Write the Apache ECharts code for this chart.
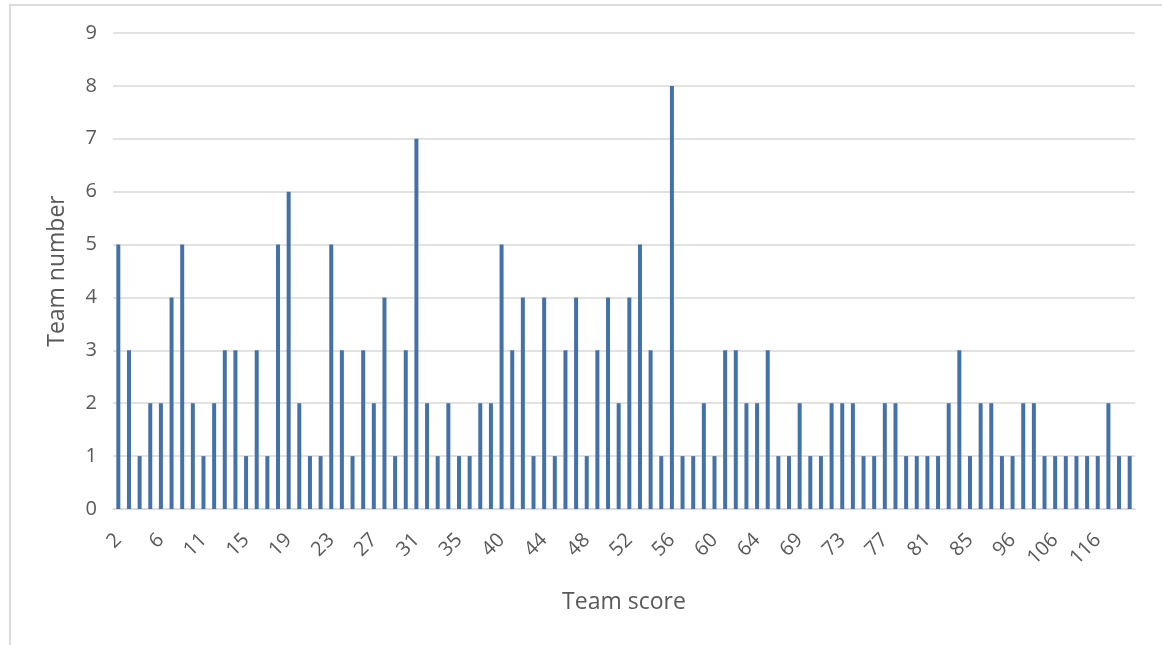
<!DOCTYPE html>
<html>
<head>
<meta charset="utf-8">
<title>Team score</title>
<script src="https://cdn.jsdelivr.net/npm/echarts@6/dist/echarts.min.js"></script>
<style>
    html, body { margin: 0; padding: 0; background: #fff; }
    #frame {
        position: absolute; left: 9px; top: 4px; width: 1200px; height: 700px;
        border-left: 2px solid #dcdcdc; border-top: 2px solid #dcdcdc;
    }
    #main { position: absolute; left: 0; top: 0; width: 1162px; height: 645px; }
</style>
</head>
<body>
<div id="frame"></div>
<div id="main"></div>
<script>
// team scores (categories) - only every 4th one is labelled on the axis
var scores = [
    2, 3, 4, 5, 6, 7, 8, 9, 11, 12, 13, 14, 15, 16, 17, 18,
    19, 20, 21, 22, 23, 24, 25, 26, 27, 28, 29, 30, 31, 32, 33, 34,
    35, 36, 38, 39, 40, 41, 42, 43, 44, 45, 46, 47, 48, 49, 50, 51,
    52, 53, 54, 55, 56, 57, 58, 59, 60, 61, 62, 63, 64, 65, 66, 67,
    69, 70, 71, 72, 73, 74, 75, 76, 77, 78, 79, 80, 81, 82, 83, 84,
    85, 87, 90, 93, 96, 98, 101, 103, 106, 108, 110, 113, 116, 118, 121, 125
];
// number of teams with each score
var teamCounts = [
    5, 3, 1, 2, 2, 4, 5, 2, 1, 2, 3, 3, 1, 3, 1, 5,
    6, 2, 1, 1, 5, 3, 1, 3, 2, 4, 1, 3, 7, 2, 1, 2,
    1, 1, 2, 2, 5, 3, 4, 1, 4, 1, 3, 4, 1, 3, 4, 2,
    4, 5, 3, 1, 8, 1, 1, 2, 1, 3, 3, 2, 2, 3, 1, 1,
    2, 1, 1, 2, 2, 2, 1, 1, 2, 2, 1, 1, 1, 1, 2, 3,
    1, 2, 2, 1, 1, 2, 2, 1, 1, 1, 1, 1, 1, 2, 1, 1
];
var yTicks = [0, 9, 1]; // min, max, interval

var textColor = "#595959";
var fontName = "'Open Sans', sans-serif";

var chart = echarts.init(document.getElementById("main"), null, {renderer: "canvas"});
chart.setOption({
    animation: false,
    textStyle: { fontFamily: fontName },
    grid: { left: 113, right: 27, top: 33, bottom: 136 },
    xAxis: {
        type: "category",
        data: scores.map(String),
        boundaryGap: true,
        name: "Team score",
        nameLocation: "middle",
        nameGap: 82,
        nameTextStyle: { color: textColor, fontSize: 23, fontFamily: fontName },
        axisLine: { lineStyle: { color: "#d9d9d9", width: 1.5 } },
        axisTick: { show: false },
        axisLabel: {
            interval: 3,
            rotate: 45,
            color: textColor,
            fontSize: 20,
            fontFamily: fontName,
            margin: 28
        }
    },
    yAxis: {
        type: "value",
        min: yTicks[0],
        max: yTicks[1],
        interval: yTicks[2],
        name: "Team number",
        nameLocation: "middle",
        nameGap: 44,
        nameTextStyle: { color: textColor, fontSize: 23, fontFamily: fontName },
        axisLine: { show: false },
        axisTick: { show: false },
        axisLabel: { color: textColor, fontSize: 20, fontFamily: fontName, margin: 16 },
        splitLine: { lineStyle: { color: "#d9d9d9", width: 1.5 } }
    },
    series: [{
        type: "bar",
        data: teamCounts,
        barWidth: 4,
        itemStyle: { color: "#4472a8" }
    }]
});
</script>
</body>
</html>
